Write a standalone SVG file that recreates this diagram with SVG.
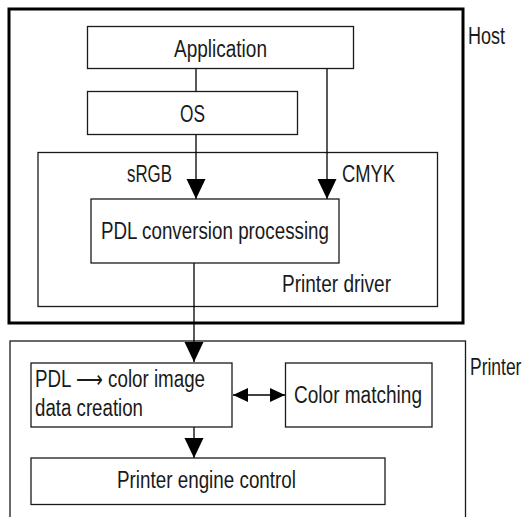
<svg xmlns="http://www.w3.org/2000/svg" width="528" height="517" viewBox="0 0 528 517">
<style>
.box{fill:#fff;stroke:#1a1a1a;stroke-width:1.3}
.frame{fill:none;stroke:#1a1a1a;stroke-width:1.3}
.host{fill:none;stroke:#000;stroke-width:3}
.t{font-family:"Liberation Sans",Arial,sans-serif;font-size:23px;fill:#1a1a1a}
.ln{stroke:#000;stroke-width:1.3;fill:none}
</style>
<defs>
<marker id="ah" viewBox="0 0 20 20" refX="20" refY="10" markerWidth="20" markerHeight="20" markerUnits="userSpaceOnUse" orient="auto">
<path d="M0,0.5 L20,10 L0,19.5 Z" fill="#000"/>
</marker>
<marker id="ahs" viewBox="0 0 15 15" refX="15" refY="7.5" markerWidth="15" markerHeight="15" markerUnits="userSpaceOnUse" orient="auto-start-reverse">
<path d="M0,0.5 L15,7.5 L0,14.5 Z" fill="#000"/>
</marker>
</defs>
<g id="host">
<rect class="host" x="9" y="9" width="454" height="314"/>
<text class="t" x="468" y="44" textLength="37" lengthAdjust="spacingAndGlyphs">Host</text>
</g>
<g id="printer-driver">
<rect class="frame" x="38" y="152.5" width="399.5" height="154"/>
<text class="t" x="282" y="292" textLength="109" lengthAdjust="spacingAndGlyphs">Printer driver</text>
</g>
<g id="printer">
<rect class="frame" x="10" y="341" width="455.5" height="200"/>
<text class="t" transform="translate(470,375) scale(0.76,1)" x="0" y="0">Printer</text>
</g>
<g id="connectors">
<line class="ln" x1="196" y1="68.5" x2="196" y2="91.5"/>
<line class="ln" x1="196" y1="134.5" x2="196" y2="199" marker-end="url(#ah)"/>
<line class="ln" x1="327" y1="68.5" x2="327" y2="199" marker-end="url(#ah)"/>
<line class="ln" x1="194" y1="263" x2="194" y2="362" marker-end="url(#ah)"/>
<line class="ln" x1="194" y1="427" x2="194" y2="458" marker-end="url(#ah)"/>
<line class="ln" x1="233" y1="395" x2="285" y2="395" marker-start="url(#ahs)" marker-end="url(#ahs)"/>
<text class="t" x="127" y="182" textLength="45" lengthAdjust="spacingAndGlyphs">sRGB</text>
<text class="t" x="342" y="182" textLength="53" lengthAdjust="spacingAndGlyphs">CMYK</text>
</g>
<g id="application">
<rect class="box" x="87.5" y="26.5" width="266" height="42"/>
<text class="t" x="174" y="57" textLength="93" lengthAdjust="spacingAndGlyphs">Application</text>
</g>
<g id="os">
<rect class="box" x="87.5" y="91.5" width="210" height="43"/>
<text class="t" x="180" y="122" textLength="25" lengthAdjust="spacingAndGlyphs">OS</text>
</g>
<g id="pdl-conversion">
<rect class="box" x="91" y="199" width="248" height="64"/>
<text class="t" x="101" y="239" textLength="228" lengthAdjust="spacingAndGlyphs">PDL conversion processing</text>
</g>
<g id="pdl-color">
<rect class="box" x="31" y="363" width="201" height="64"/>
<text class="t" x="35" y="387" textLength="170" lengthAdjust="spacingAndGlyphs">PDL ⟶ color image</text>
<text class="t" x="35" y="416" textLength="108" lengthAdjust="spacingAndGlyphs">data creation</text>
</g>
<g id="color-matching">
<rect class="box" x="285.5" y="363" width="146.5" height="64"/>
<text class="t" x="294" y="403" textLength="128" lengthAdjust="spacingAndGlyphs">Color matching</text>
</g>
<g id="engine">
<rect class="box" x="31" y="458" width="354" height="46.5"/>
<text class="t" x="117" y="488" textLength="179" lengthAdjust="spacingAndGlyphs">Printer engine control</text>
</g>
</svg>
